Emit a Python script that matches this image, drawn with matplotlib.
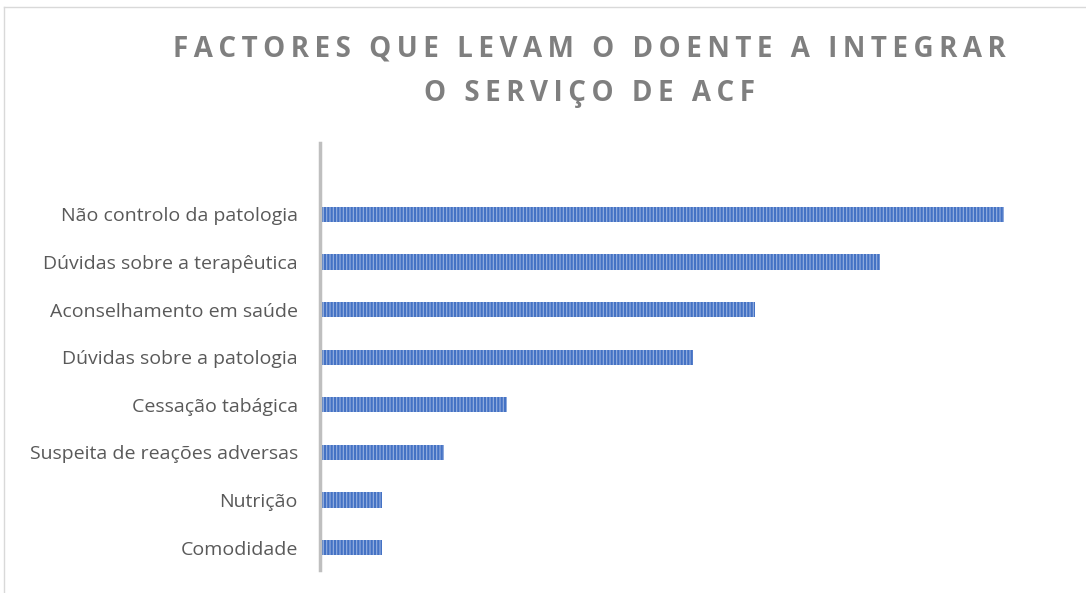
import matplotlib.pyplot as plt
from matplotlib.lines import Line2D

categories = [
    "Não controlo da patologia",
    "Dúvidas sobre a terapêutica",
    "Aconselhamento em saúde",
    "Dúvidas sobre a patologia",
    "Cessação tabágica",
    "Suspeita de reações adversas",
    "Nutrição",
    "Comodidade",
]
values = [11, 9, 7, 6, 3, 2, 1, 1]
title_lines = ["FACTORES QUE LEVAM O DOENTE A INTEGRAR", "O SERVIÇO DE ACF"]

plt.rcParams["hatch.linewidth"] = 1.6
plt.rcParams["font.family"] = ["Open Sans", "DejaVu Sans"]

fig = plt.figure(figsize=(10.86, 5.93), dpi=100)
ax = fig.add_axes([320 / 1086, 23 / 593, 746 / 1086, 427 / 593])

pos = list(range(len(categories)))[::-1]
ax.barh(pos, values, height=0.32, color="#98b1e0", edgecolor="#4472c4",
        hatch="|||||", linewidth=0)

ax.set_xlim(0, 12)
ax.set_ylim(-0.47, 8.5)
ax.set_yticks(pos)
ax.set_yticklabels(categories, fontsize=14, color="#595959")
ax.tick_params(axis="y", length=0, pad=16)
ax.set_xticks([])
for s in ["top", "right", "bottom"]:
    ax.spines[s].set_visible(False)
ax.spines["left"].set_color("#bfbfbf")
ax.spines["left"].set_linewidth(2.5)

# spaced-out title, as in the original
spaced = "\n".join("\u2009".join(line) for line in title_lines)
fig.text(0.543, 0.88, spaced, ha="center", va="center", fontsize=20,
         fontweight="bold", color="#7f7f7f", linespacing=1.7,
         family=["Open Sans", "DejaVu Sans"])

# chart frame
fig.add_artist(Line2D([4 / 1086, 1.0], [1 - 7 / 593, 1 - 7 / 593],
                      transform=fig.transFigure, color="#d9d9d9", lw=1))
fig.add_artist(Line2D([4 / 1086, 4 / 1086], [0, 1 - 7 / 593],
                      transform=fig.transFigure, color="#d9d9d9", lw=1))

fig.savefig("out.png", dpi=100)
